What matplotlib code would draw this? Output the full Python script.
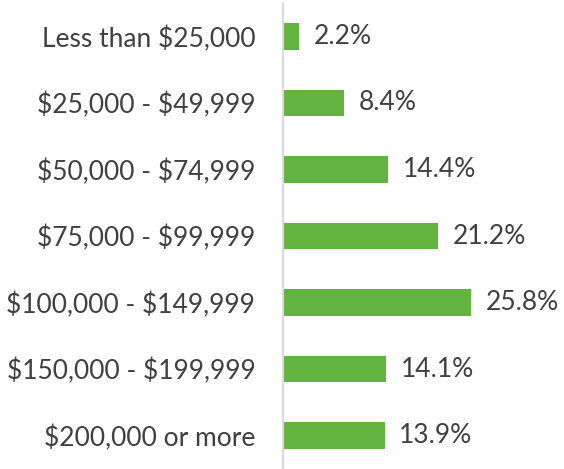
import matplotlib.pyplot as plt

# data
categories = ['Less than $25,000', '$25,000 - $49,999', '$50,000 - $74,999',
              '$75,000 - $99,999', '$100,000 - $149,999', '$150,000 - $199,999',
              '$200,000 or more']
shares = [2.2, 8.4, 14.4, 21.2, 25.8, 14.1, 13.9]

bar_color = '#62b33f'
text_color = '#404040'

plt.rcParams['font.family'] = ['Lato', 'DejaVu Sans']
plt.rcParams['text.parse_math'] = False

fig = plt.figure(figsize=(5.64, 4.69), dpi=100)
ax = fig.add_axes([0.502, 0.0, 0.498, 466 / 469])

ypos = list(range(len(categories)))
ax.barh(ypos, shares, height=0.4, color=bar_color)

for y, v in zip(ypos, shares):
    ax.text(v + 2.0, y, f'{v:.1f}%', va='center', ha='left',
            fontsize=19, color=text_color)

ax.set_yticks(ypos)
ax.set_yticklabels(categories, fontsize=19, color=text_color)
ax.tick_params(axis='y', length=0, pad=20)
ax.set_xticks([])
ax.set_xlim(0, 38.5)
ax.set_ylim(6.5, -0.5)

for s in ['top', 'right', 'bottom']:
    ax.spines[s].set_visible(False)
ax.spines['left'].set_color('#d9d9e0')
ax.spines['left'].set_linewidth(1.5)

fig.savefig('out.png', dpi=100)
